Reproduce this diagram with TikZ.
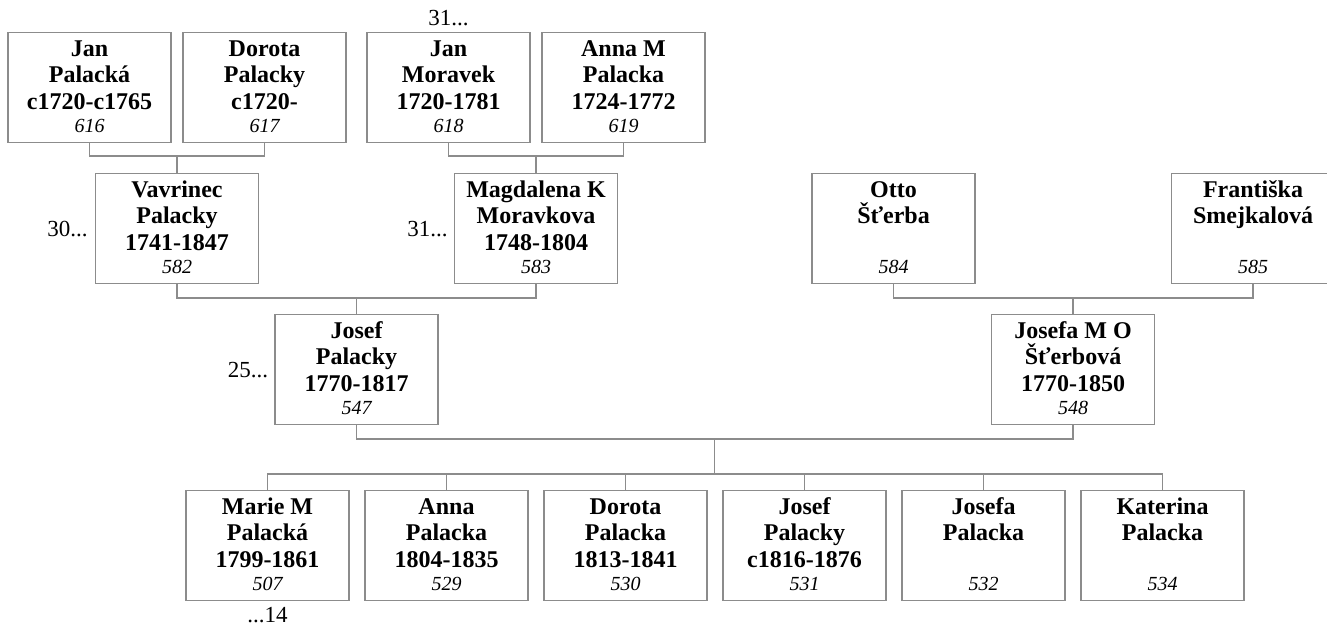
\documentclass[tikz,border=0pt]{standalone}
\usepackage{fontspec}
\setmainfont{Liberation Serif}
\definecolor{linegray}{RGB}{140,140,140}
\newcommand\pid[1]{{\fontsize{20}{26.5}\selectfont\mdseries\itshape #1}\rule[-4pt]{0pt}{4pt}}
\newcommand\hs{\rule{0pt}{18pt}}
\begin{document}
\begin{tikzpicture}[x=1pt,y=-1pt,
  person/.style={draw=linegray, line width=1.2pt, minimum width=163pt, minimum height=110pt,
    inner sep=0pt, align=center, anchor=north, font=\fontsize{24}{26.5}\selectfont\bfseries},
  link/.style={draw=linegray, line width=1.2pt},
  more/.style={font=\fontsize{23}{26}\selectfont, inner sep=0pt}]
\useasboundingbox (0,0) rectangle (1327,628);
% generation 1
\node[person] (n616) at (89.5,32) {\hs Jan\\Palacká\\c1720-c1765\\[-3pt]\pid{616}};
\node[person] (n617) at (264.5,32) {\hs Dorota\\Palacky\\c1720-\\[-3pt]\pid{617}};
\node[person] (n618) at (448.5,32) {\hs Jan\\Moravek\\1720-1781\\[-3pt]\pid{618}};
\node[person] (n619) at (623.5,32) {\hs Anna M\\Palacka\\1724-1772\\[-3pt]\pid{619}};
% generation 2
\node[person] (n582) at (177,173) {\hs Vavrinec\\Palacky\\1741-1847\\[-3pt]\pid{582}};
\node[person] (n583) at (536,173) {\hs Magdalena K\\Moravkova\\1748-1804\\[-3pt]\pid{583}};
\node[person] (n584) at (893.5,173) {\hs Otto\\Šťerba\\\\[-3pt]\pid{584}};
\node[person] (n585) at (1253,173) {\hs Františka\\Smejkalová\\\\[-3pt]\pid{585}};
% generation 3
\node[person] (n547) at (356.5,314) {\hs Josef\\Palacky\\1770-1817\\[-3pt]\pid{547}};
\node[person] (n548) at (1073,314) {\hs Josefa M O\\Šťerbová\\1770-1850\\[-3pt]\pid{548}};
% children
\node[person] (c507) at (267.5,490) {\hs Marie M\\Palacká\\1799-1861\\[-3pt]\pid{507}};
\node[person] (c529) at (446.5,490) {\hs Anna\\Palacka\\1804-1835\\[-3pt]\pid{529}};
\node[person] (c530) at (625.5,490) {\hs Dorota\\Palacka\\1813-1841\\[-3pt]\pid{530}};
\node[person] (c531) at (804.5,490) {\hs Josef\\Palacky\\c1816-1876\\[-3pt]\pid{531}};
\node[person] (c532) at (983.5,490) {\hs Josefa\\Palacka\\\\[-3pt]\pid{532}};
\node[person] (c534) at (1162.5,490) {\hs Katerina\\Palacka\\\\[-3pt]\pid{534}};
% continuation labels
\node[more, anchor=base, yshift=6pt] (l618) at (n618.north) {31...};
\node[more, anchor=east, xshift=-7pt] (l582) at (n582.west) {30...};
\node[more, anchor=east, xshift=-6pt] (l583) at (n583.west) {31...};
\node[more, anchor=east, xshift=-6pt] (l547) at (n547.west) {25...};
\node[more, anchor=north, yshift=-6pt] (l507) at (c507.south) {...14};
% junctions
\coordinate (j1) at (177,156);
\coordinate (j2) at (536,156);
\coordinate (j3) at (356.5,298);
\coordinate (j4) at (1073,298);
\coordinate (j5) at (714.75,439);
\coordinate (j6) at (714.75,474);
% connectors
\draw[link] (n616.south) |- (j1) -| (n617.south);
\draw[link] (j1) -- (n582.north);
\draw[link] (n618.south) |- (j2) -| (n619.south);
\draw[link] (j2) -- (n583.north);
\draw[link] (n582.south) |- (j3) -| (n583.south);
\draw[link] (j3) -- (n547.north);
\draw[link] (n584.south) |- (j4) -| (n585.south);
\draw[link] (j4) -- (n548.north);
\draw[link] (n547.south) |- (j5) -| (n548.south);
\draw[link] (j5) -- (j6);
\draw[link] (c507.north) |- (j6) -| (c534.north);
\draw[link] (c529.north) -- (c529.north |- j6);
\draw[link] (c530.north) -- (c530.north |- j6);
\draw[link] (c531.north) -- (c531.north |- j6);
\draw[link] (c532.north) -- (c532.north |- j6);
\end{tikzpicture}
\end{document}
